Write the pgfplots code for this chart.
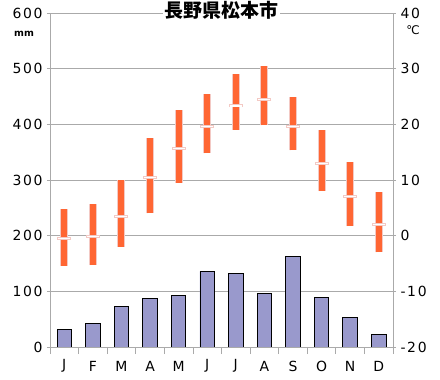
\documentclass[border=0pt]{standalone}
\usepackage{pgfplots}
\pgfplotsset{compat=1.18}
\usepackage{pgfplotstable}
\usepackage{fontspec}
\setmainfont{DejaVu Sans}
\newfontfamily\cjk{Noto Sans CJK JP}
\definecolor{barfill}{HTML}{9999CC}
\definecolor{tor}{HTML}{FF6633}
\definecolor{tpink}{HTML}{F3C9C4}
\definecolor{gridc}{HTML}{AAAAAA}

\pgfplotstableread{
x p
0 32
1 42.6
2 73
3 87.4
4 92.8
5 136
6 132.4
7 96.4
8 163
9 89.3
10 53.4
11 22.8
}\precip

\pgfplotstableread{
x t
0 -5.4
0 4.8
0 nan
1 -5.3
1 5.6
1 nan
2 -2.0
2 10.0
2 nan
3 4.0
3 17.5
3 nan
4 9.5
4 22.6
4 nan
5 14.8
5 25.4
5 nan
6 19.0
6 29.0
6 nan
7 19.8
7 30.5
7 nan
8 15.3
8 25.0
8 nan
9 8.0
9 19.0
9 nan
10 1.7
10 13.3
10 nan
11 -3.0
11 7.9
}\trange

\pgfplotstableread{
x m
0 -0.5
1 -0.2
2 3.5
3 10.4
4 15.7
5 19.6
6 23.3
7 24.4
8 19.6
9 12.9
10 7.1
11 2.0
}\tmean

\begin{document}
\begin{tikzpicture}
\begin{axis}[
  at={(0,0)}, anchor=south west, scale only axis,
  width=343bp, height=334bp,
  xmin=-0.5, xmax=11.5, ymin=0, ymax=600,
  axis x line*=bottom, axis y line*=left,
  axis line style={gridc, line width=0.8bp, -},
  xtick={0,...,11},
  xticklabels={J,F,M,A,M,J,J,A,S,O,N,D},
  major x tick style={draw=none},
  minor xtick={-0.5,0.5,...,11.5},
  minor tick length=7bp,
  major tick length=3bp,
  tick align=outside,
  tick style={gridc, line width=0.8bp},
  ytick={0,100,...,600},
  yticklabels={0,100,200,300,400,500,600},
  ymajorgrids,
  grid style={gridc, line width=0.8bp},
  ticklabel style={font=\fontsize{14}{16}\selectfont\addfontfeatures{LetterSpace=12}},
  xticklabel style={anchor=center, yshift=-16bp},
  yticklabel style={anchor=east, xshift=-1bp},
]
\addplot[ybar, bar width=14.5bp, fill=barfill, draw=black, line width=0.8bp] table[x=x, y=p] {\precip};
\end{axis}
\begin{axis}[
  at={(0,0)}, anchor=south west, scale only axis,
  width=343bp, height=334bp,
  xmin=-0.5, xmax=11.5, ymin=-20, ymax=40,
  axis x line=none, axis y line*=right,
  axis line style={gridc, line width=0.8bp, -},
  ytick={-20,-10,...,40},
  yticklabels={-20,-10,0,10,20,30,40},
  tick align=outside,
  major tick length=3bp,
  tick style={gridc, line width=0.8bp},
  ticklabel style={font=\fontsize{14}{16}\selectfont\addfontfeatures{LetterSpace=12}},
  yticklabel style={anchor=west, xshift=1bp},
  unbounded coords=jump,
  clip=false,
]
\addplot[tpink, line width=8bp, line cap=butt] table[x=x, y=t] {\trange};
\addplot[tor, line width=6bp, line cap=butt] table[x=x, y=t] {\trange};
\addplot[only marks, mark=-, mark size=7bp, mark options={tpink, line width=3bp}] table[x=x, y=m] {\tmean};
\addplot[only marks, mark=-, mark size=6bp, mark options={white, line width=1.2bp}] table[x=x, y=m] {\tmean};
\end{axis}
\node[fill=white, inner sep=2bp, font=\cjk\bfseries\fontsize{19}{21}\selectfont] at (171.3bp,337bp) {長野県松本市};
\node[font=\bfseries\fontsize{9.5}{10}\selectfont, inner sep=0pt] at (-26bp,313bp) {mm};
\node[font=\fontsize{12}{13}\selectfont, inner sep=0pt] at (363bp,317bp) {℃};
\pgfresetboundingbox
\path (-50bp,-33bp) rectangle (390bp,347bp);
\end{tikzpicture}
\end{document}
